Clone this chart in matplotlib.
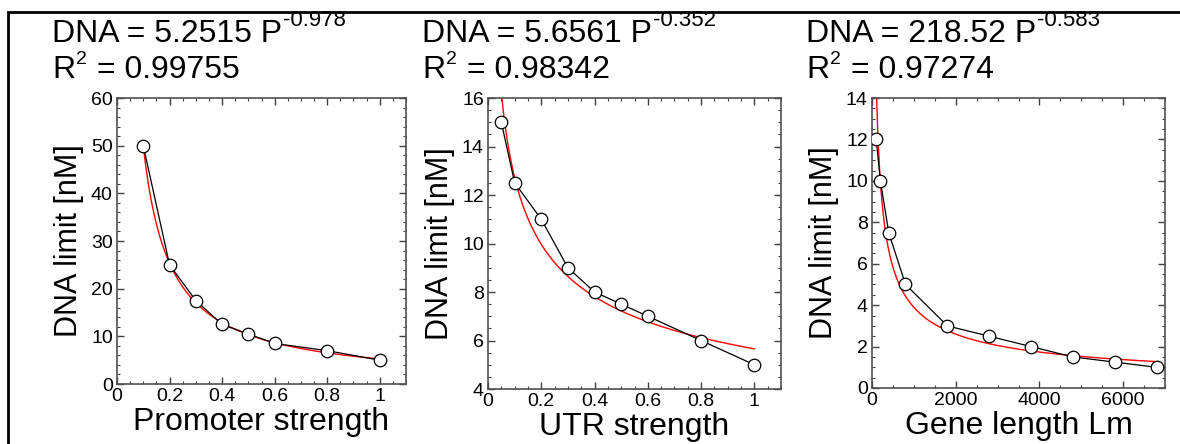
import numpy as np
import matplotlib.pyplot as plt
from matplotlib.ticker import MultipleLocator
from matplotlib.patches import Rectangle

plt.rcParams['font.family'] = ['Liberation Sans', 'DejaVu Sans']

# promoter strength panel
prom_x = [0.1, 0.2, 0.3, 0.4, 0.5, 0.6, 0.8, 1.0]
prom_y = [50, 25, 17.5, 12.5, 10.5, 8.5, 7, 5]
prom_a, prom_b, prom_r2 = 5.2515, -0.978, "0.99755"

# UTR strength panel
utr_x = [0.05, 0.1, 0.2, 0.3, 0.4, 0.5, 0.6, 0.8, 1.0]
utr_y = [15, 12.5, 11, 9, 8, 7.5, 7, 6, 5]
utr_a, utr_b, utr_r2 = 5.6561, -0.352, "0.98342"

# gene length panel
gene_x = [100, 200, 400, 800, 1800, 2800, 3800, 4800, 5800, 6800]
gene_y = [12, 10, 7.5, 5, 3, 2.5, 2, 1.5, 1.25, 1.0]
gene_a, gene_b, gene_r2 = 218.52, -0.583, "0.97274"

W, H = 1180, 444
fig = plt.figure(figsize=(W / 100, H / 100), dpi=100)
renderer = fig.canvas.get_renderer()

# outer frame
fig.patches.append(Rectangle((8/W, -0.05), 1.2, 1 - 12/H + 0.05,
                             transform=fig.transFigure, fill=False,
                             edgecolor='black', linewidth=2, clip_on=False))


def frac_fmt(v):
    if v == 0:
        return "0"
    if v == 1:
        return "1"
    return f"{v:.1f}"


panels = [
    dict(x=prom_x, y=prom_y, a=prom_a, b=prom_b, r2=prom_r2,
         pos=[117, 406, 384], xlim=(0, 1.1), ylim=(0, 60),
         xmaj=0.2, xmin=0.05, ymaj=10, ymin=2, label="Promoter strength",
         fmt=frac_fmt, tx=52),
    dict(x=utr_x, y=utr_y, a=utr_a, b=utr_b, r2=utr_r2,
         pos=[488, 781, 389], xlim=(0, 1.1), ylim=(4, 16),
         xmaj=0.2, xmin=0.05, ymaj=2, ymin=0.5, label="UTR strength",
         fmt=frac_fmt, tx=422),
    dict(x=gene_x, y=gene_y, a=gene_a, b=gene_b, r2=gene_r2,
         pos=[872, 1165, 388], xlim=(0, 7000), ylim=(0, 14),
         xmaj=2000, xmin=500, ymaj=2, ymin=0.5, label="Gene length Lm",
         fmt=lambda v: f"{v:.0f}", tx=806),
]


def text_with_sup(x, base_y, main, sup, size, sup_size, rise):
    t = fig.text(x / W, 1 - base_y / H, main, fontsize=size,
                 ha='left', va='baseline')
    bb = t.get_window_extent(renderer)
    s = fig.text(bb.x1 / W + 1 / W, 1 - (base_y - rise) / H, sup,
                 fontsize=sup_size, ha='left', va='baseline')
    return s.get_window_extent(renderer)


for p in panels:
    l, r, btm = p['pos']
    ax = fig.add_axes([l/W, 1 - btm/H, (r - l)/W, (btm - 98)/H])
    xs = np.linspace(min(p['x']), max(p['x']), 400)
    ax.plot(xs, p['a'] * xs ** p['b'], color='red', lw=1.0, zorder=2)
    ax.plot(p['x'], p['y'], color='black', lw=0.9, marker='o', ms=9,
            mfc='white', mec='black', mew=0.9, zorder=3)
    ax.set_xlim(*p['xlim'])
    ax.set_ylim(*p['ylim'])
    ax.xaxis.set_minor_locator(MultipleLocator(p['xmin']))
    ax.yaxis.set_major_locator(MultipleLocator(p['ymaj']))
    ax.yaxis.set_minor_locator(MultipleLocator(p['ymin']))
    ticks = list(np.arange(p['xlim'][0], p['xlim'][1] + 1e-9, p['xmaj']))
    ax.set_xticks(ticks)
    ax.set_xticklabels([p['fmt'](round(t, 6)) for t in ticks])
    ax.tick_params(which='both', direction='in', top=True, right=True,
                   colors='#404040', labelcolor='black', labelsize=14, pad=3)
    ax.tick_params(which='major', length=5, width=1)
    ax.tick_params(which='minor', length=2.5, width=0.8)
    for s in ax.spines.values():
        s.set_color('#505050')
        s.set_linewidth(1.2)
    ax.set_xlabel(p['label'], fontsize=23, labelpad=1)
    ax.set_ylabel("DNA limit [nM]", fontsize=22, labelpad=5)

    text_with_sup(p['tx'], 42, f"DNA = {p['a']} P", f"{p['b']}", 23, 16, 16)
    bb = text_with_sup(p['tx'], 78, "R", "2", 23, 14, 14)
    fig.text(bb.x1 / W + 10 / W, 1 - 78 / H, f"= {p['r2']}", fontsize=23,
             ha='left', va='baseline')

fig.savefig("out.png", dpi=100)
